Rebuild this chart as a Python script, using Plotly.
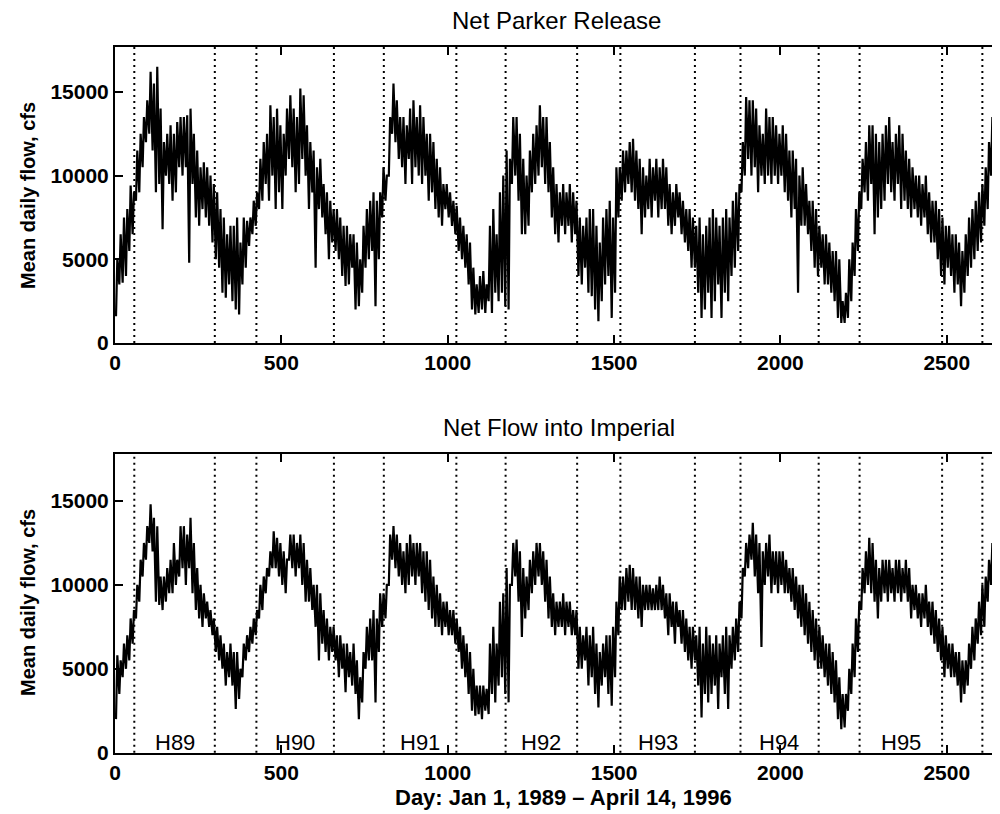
import plotly.graph_objects as go

# ---------------- data ----------------
# 10-day bins starting at day 0; each bin gives the low and high excursion (cfs)
bin_days = list(range(0, 2660, 10))

parker_lo = [1600,3500,3600,4000,5500,6500,8500,9000,10500,12000,
             12500,11500,9000,9500,6800,10000,9500,8500,9000,10500,
             10000,10500,4800,9500,7500,7000,8000,7500,7000,6000,
             5000,4500,3000,2700,3500,2500,2000,1700,3500,4500,
             5800,6500,7000,8000,8500,9500,8500,10000,8000,9000,
             8000,10000,11000,10500,9000,9500,11000,10000,8000,9000,
             4500,8000,7500,6500,5000,6000,5500,5000,4000,3400,
             3500,4500,2000,2200,3000,4500,5000,5500,2200,5000,
             7500,8500,10000,12500,12000,11000,10500,9500,11000,9500,
             10500,10000,9500,10000,8500,9000,8000,7500,7000,8000,
             7500,7000,6500,5500,5000,4500,3500,2000,1700,1800,
             2000,1800,2500,1800,3000,2500,3000,2200,2000,9500,
             10000,8500,6500,6500,7000,9000,9500,10000,10500,9500,
             9000,7500,6500,6000,7000,6500,7000,6000,6500,4000,
             3500,4500,3000,2800,2000,1300,2500,3500,4000,1500,
             3000,7500,8500,9000,9500,9000,8500,8000,6500,7500,
             8000,7500,8500,7500,8000,8000,7000,6500,7000,7500,
             6500,6000,5500,4500,4500,3000,1500,2000,3000,1500,
             2500,3500,1500,3000,2500,4000,4500,5500,9000,10000,
             11000,10000,10500,9000,10000,9500,10000,9500,10000,9500,
             10000,9000,8500,7500,8000,3000,7000,7000,6500,5500,
             4500,4000,4500,3500,3500,3000,2500,1500,1200,1200,
             1500,2500,4000,5500,8000,9000,8500,9500,6500,7500,
             8000,8500,9500,9000,8500,9500,8000,8500,8000,7500,
             8000,7500,7000,7500,6500,6000,6000,5000,4000,3500,
             4500,4000,3000,3500,2200,3000,4000,4500,5000,5500,
             6000,7000,8000,10000,11000,11500]
parker_hi = [5000,6500,7500,8000,9400,9000,11500,12500,13500,14500,
             16200,15500,16500,14000,12000,12500,13000,12500,13200,13500,
             13500,13600,14000,12500,11500,10500,10800,10500,10000,9500,
             9000,8000,7500,6500,7000,7000,7500,6000,7500,7300,
             7500,8500,9000,11000,12000,12500,14200,13500,14000,13000,
             12500,14000,14800,14000,13500,15200,14800,13000,12000,11500,
             10500,11000,9500,9000,8500,8000,8000,7500,7000,7000,
             6500,6500,6000,5000,7000,8000,8500,9000,8500,9000,
             10500,10000,13500,15500,14500,13500,13500,13000,14000,14500,
             13500,14200,13500,12500,12500,12000,11000,10500,9500,9500,
             9000,8500,8200,7500,7000,6500,6000,4500,3500,4000,
             4300,3500,7000,8000,6500,9000,10000,11500,11000,13500,
             13500,12500,11000,10000,11500,12500,13000,14200,13500,13500,
             12000,10500,9500,9000,9500,9000,9500,9000,8500,7500,
             7000,7500,8000,8000,7000,6000,7500,8000,8500,7500,
             10500,10500,11500,11500,12000,12200,11500,11000,10500,10000,
             11000,10500,11000,10500,11000,10500,9500,9000,9500,9000,
             8500,8000,8000,7500,7000,7500,6500,7000,7500,8000,
             7500,7000,7500,8000,7500,8500,9000,9500,12000,14700,
             14500,14500,14000,13000,12500,14000,13500,13500,13000,12500,
             13000,12500,11500,11500,11000,10000,10500,9500,8500,8500,
             8000,7000,6500,6500,6000,5500,5500,5000,2500,3000,
             5000,6000,8000,9000,11000,12000,13000,13000,12500,12000,
             12500,13000,13500,12000,12500,13000,12500,11500,11000,10500,
             10000,10000,9500,10000,9000,8500,8500,8000,7500,7000,
             7000,6500,6500,6000,5500,6500,7500,8000,8500,9000,
             9500,10500,12000,13500,14000,14000]

imperial_lo = [2000,3500,4500,5000,5500,6500,8000,9000,10500,11500,
               12500,12000,9000,8800,8500,9000,9500,9500,10000,10500,
               11000,10000,11000,9500,8500,8000,7500,8000,7500,7000,
               6000,5500,5000,4000,4500,4000,2600,3200,4500,5500,
               6000,6500,7000,8000,8500,9500,10500,11000,11000,10500,
               10000,9500,11500,11000,10500,11000,10000,9000,9000,8500,
               7500,5500,6500,6000,5500,6000,5500,4500,5000,3600,
               4500,4000,3500,2000,3000,5000,5500,5500,3000,6000,
               7500,8000,10000,11500,11000,10500,10000,9500,10000,10500,
               10000,10500,9500,9000,8500,8000,7500,7500,7000,7500,
               7000,7000,6500,6000,5000,4500,3500,2500,2200,2300,
               2000,2500,2300,3500,3000,4000,4500,3500,3000,10000,
               10500,9000,6900,8000,8500,9500,10000,10500,10000,9000,
               8000,7500,7000,7500,7500,7000,7500,7000,7000,5000,
               5000,5500,4000,4500,3500,2700,4000,4500,3500,2800,
               4500,7000,8500,8500,9000,8500,8500,8000,7500,8500,
               8500,8500,8500,8500,8500,8000,7000,7500,6500,7500,
               6500,6000,5500,5000,5500,4000,2100,3500,3000,3500,
               4000,2600,4500,3500,2600,5000,5500,6000,8000,10500,
               11000,11500,10500,9500,6300,10000,10500,9500,10000,9500,
               10000,9500,9500,9000,8500,8000,7500,7000,6500,6000,
               5500,5000,5000,4500,4000,3500,3000,2000,1400,1500,
               2500,3500,4500,6000,8500,9500,10000,9500,9000,8000,
               9000,9500,9000,9500,9000,9500,9000,9500,9000,8000,
               8500,8000,7500,8000,7500,7000,6500,6000,5500,4500,
               5000,4500,4500,4000,3000,3500,4000,5000,5500,6500,
               7000,7500,9000,10000,10500,11000]
imperial_hi = [5800,5500,6500,7000,8000,8500,10000,11500,12500,13500,
               14800,14000,13500,10500,10500,11000,11500,12500,11500,13500,
               13500,13000,14000,12500,11000,10000,9500,9000,8500,8000,
               7500,7000,6500,6000,6500,6000,6000,5000,6500,7000,
               7500,8000,8500,10000,10500,11000,12000,13200,12800,12500,
               12000,11500,13000,13000,12500,13000,12500,11500,11000,10000,
               10000,9500,8500,8000,7500,7500,7000,7000,6500,6500,
               6000,6500,5500,4500,6000,7500,8000,8500,8000,9500,
               9500,10000,13000,13500,13000,12500,12000,12500,13000,12500,
               12500,12500,12000,12000,11500,10500,10000,9500,9000,9000,
               8500,8500,8000,7500,7000,6500,6000,5000,4000,4000,
               4000,3800,6500,7500,6500,9000,9500,11000,10000,12500,
               12700,12000,11000,10500,11500,12000,12500,12500,12000,11500,
               10500,9500,9000,9000,9500,9000,9000,8500,8500,7500,
               7000,7500,7000,7500,6500,6000,6500,7000,7000,7500,
               9000,10500,10500,11000,11200,11000,10500,10500,10000,10000,
               10000,9800,10000,10500,10000,9500,9500,9000,9000,8500,
               8500,8000,7500,7500,7000,7500,6500,7500,7000,6500,
               7000,6500,7000,7500,7000,7500,8000,9000,11000,12500,
               13000,13700,13000,12500,12000,12500,13000,12000,12000,12000,
               12000,11500,11000,11000,10500,10000,10000,9500,9000,8500,
               8000,7500,7000,6500,6500,6000,5500,4500,3500,3500,
               5000,6500,8000,9000,11000,12000,12800,12500,11500,11000,
               11500,11500,11500,11000,11500,11500,11000,11500,11000,10000,
               10000,9500,9500,10000,9000,9000,8500,8000,7500,7000,
               6500,6500,6000,6000,5500,5500,6500,7500,8000,9000,
               10000,10500,11500,12500,13000,13000]

# water-year boundary days (dotted lines) and season labels
boundary_days = [58, 300, 425, 658, 808, 1026, 1174, 1389, 1519, 1743,
                 1880, 2115, 2238, 2486, 2607]
season_labels = ["H89", "H90", "H91", "H92", "H93", "H94", "H95"]
season_days = [179, 541, 917, 1281, 1631, 1997, 2362]

x_ticks = [0, 500, 1000, 1500, 2000, 2500]
x_tick_text = ["0", "500", "1000", "1500", "2000", "2500"]
y_ticks = [0, 5000, 10000, 15000]
y_tick_text = ["0", "5000", "10000", "15000"]


def zigzag(lo, hi):
    xs, ys = [], []
    for d, a, b in zip(bin_days, lo, hi):
        xs += [d + 3, d + 7]
        ys += [a, b]
    return xs, ys


FONT = "Liberation Sans, Arial, Helvetica, sans-serif"

fig = go.Figure()
for lo, hi, xa, ya in ((parker_lo, parker_hi, "x", "y"), (imperial_lo, imperial_hi, "x2", "y2")):
    zx, zy = zigzag(lo, hi)
    fig.add_trace(go.Scatter(x=zx, y=zy, mode="lines", line=dict(color="black", width=2.2),
                             xaxis=xa, yaxis=ya, showlegend=False, hoverinfo="skip"))

# The page has an 8px body margin, so the figure's origin sits at page (8, 8).
OFF = 8
H, W = 814, 1000


def fy(page_y):
    return (H - (page_y - OFF)) / H


def fx(page_x):
    return (page_x - OFF) / W


top_dom = [fy(343), fy(46.7)]
bot_dom = [fy(752.7), fy(454)]
xdom = [fx(115), 1.0]
# page x 115 -> day 0, page x 1000 -> day 2660; axis continues (cropped) to figure edge
day_per_px = 2660 / (1000 - 115)
x_max = 2660 + OFF * day_per_px

xcommon = dict(range=[0, x_max], tickvals=x_ticks, ticktext=x_tick_text, ticks="inside",
               ticklen=8, tickwidth=2, tickcolor="black", showline=True, linecolor="black",
               linewidth=2, mirror="ticks", showgrid=False, zeroline=False, automargin=False,
               tickfont=dict(family=FONT, size=21, color="black", weight="bold"))
ycommon = dict(tickvals=y_ticks, ticktext=y_tick_text, ticks="inside", ticklen=8, tickwidth=2,
               tickcolor="black", showline=True, linecolor="black", linewidth=2,
               mirror=False, showgrid=False, zeroline=False, automargin=False,
               tickfont=dict(family=FONT, size=21, color="black", weight="bold"))

fig.update_layout(
    width=W, height=H, paper_bgcolor="white", plot_bgcolor="white",
    margin=dict(l=0, r=0, t=0, b=0, autoexpand=False),
    xaxis=dict(domain=xdom, anchor="y", **xcommon),
    yaxis=dict(domain=top_dom, anchor="x", range=[0, 17700], **ycommon),
    xaxis2=dict(domain=xdom, anchor="y2", **xcommon),
    yaxis2=dict(domain=bot_dom, anchor="x2", range=[0, 17800], **ycommon),
)

shapes = []
for xr, yr in (("x", "y domain"), ("x2", "y2 domain")):
    for d in boundary_days:
        shapes.append(dict(type="line", xref=xr, yref=yr, x0=d, x1=d, y0=0, y1=1,
                           line=dict(color="black", width=2, dash="2px,4px")))
# inward ticks of the (cropped) right-hand axis
for yr in ("y", "y2"):
    for v in y_ticks[1:]:
        shapes.append(dict(type="line", xref="paper", yref=yr, x0=fx(994), x1=fx(1001),
                           y0=v, y1=v, line=dict(color="black", width=2)))
fig.update_layout(shapes=shapes)


def txt(text, px, py, size, bold=False, angle=0):
    f = dict(family=FONT, size=size, color="black")
    if bold:
        f["weight"] = "bold"
    return dict(text=text, x=fx(px), y=fy(py), xref="paper", yref="paper",
                xanchor="center", yanchor="middle", textangle=angle,
                showarrow=False, font=f)


ann = [
    txt("Net Parker Release", 556, 20, 24),
    txt("Net Flow into Imperial", 559, 427, 24),
    txt("Day: Jan 1, 1989 \u2013 April 14, 1996", 563, 797, 22, bold=True),
    txt("Mean daily flow, cfs", 28, 196, 20, bold=True, angle=-90),
    txt("Mean daily flow, cfs", 28, 603, 20, bold=True, angle=-90),
]
for lab, d in zip(season_labels, season_days):
    ann.append(dict(text=lab, x=d, y=0, xref="x2", yref="y2", xanchor="center",
                    yanchor="bottom", yshift=-4, showarrow=False,
                    font=dict(family=FONT, size=22, color="black")))
fig.update_layout(annotations=ann)

fig.write_html("out.html")
